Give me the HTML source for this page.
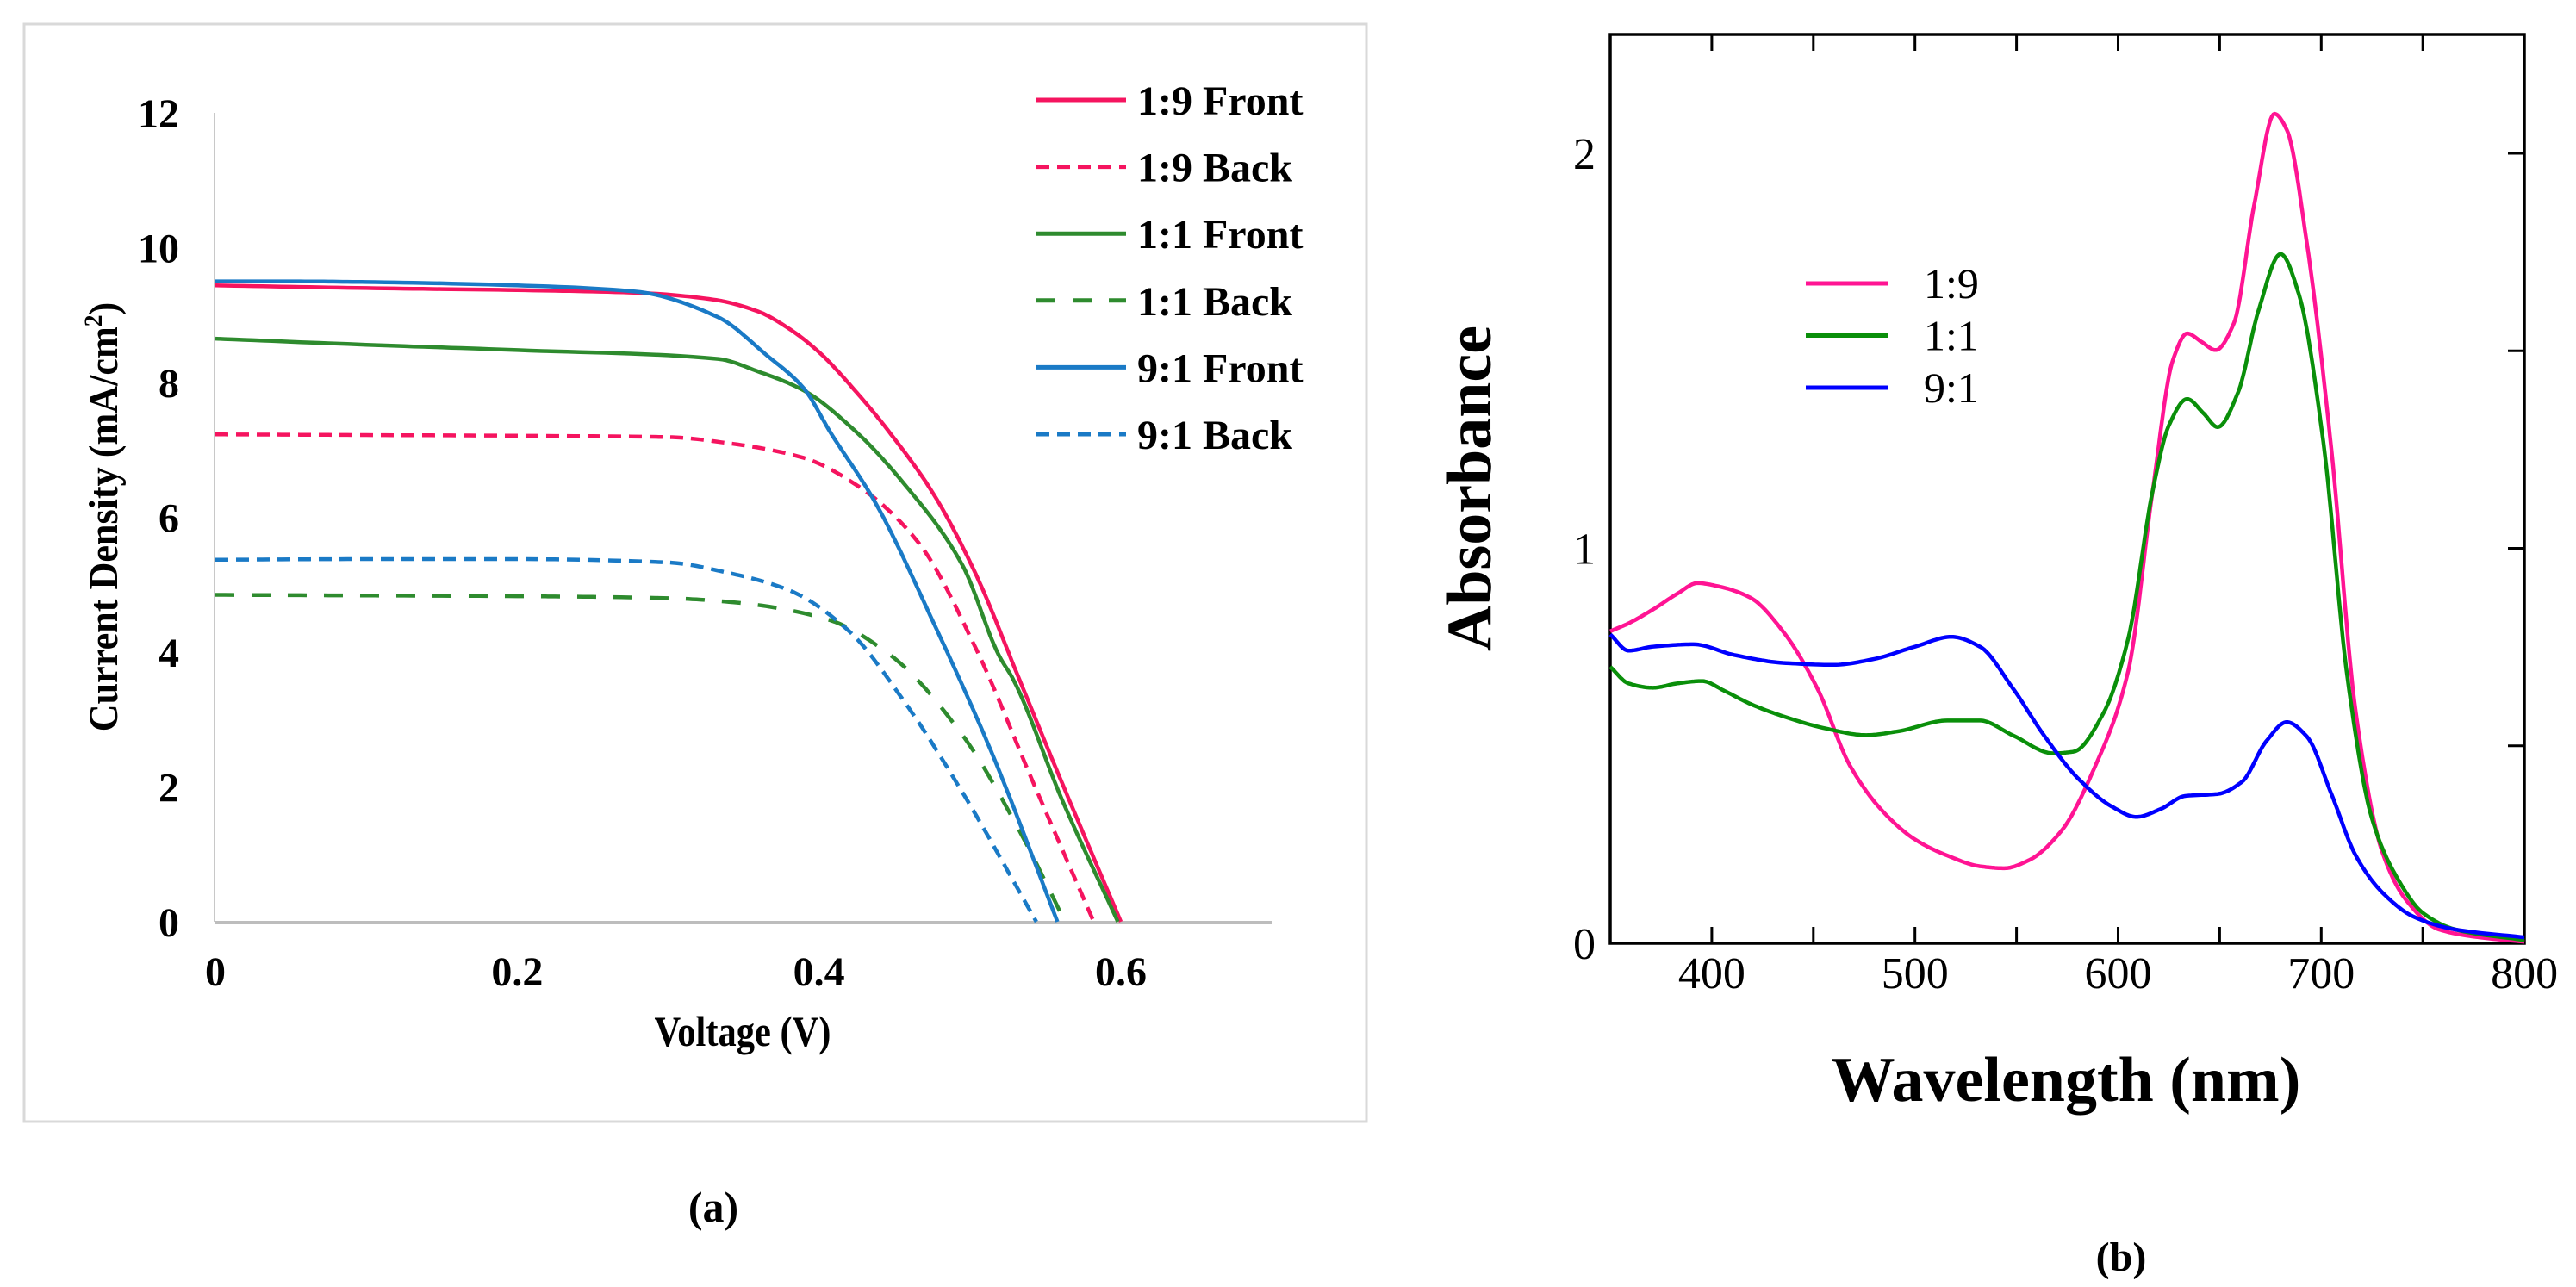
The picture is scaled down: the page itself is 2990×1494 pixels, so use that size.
<!DOCTYPE html>
<html><head><meta charset="utf-8">
<style>
html,body{margin:0;padding:0;background:#fff;}
svg{display:block;font-family:"Liberation Serif",serif;}
text{font-family:"Liberation Serif",serif;}
</style></head>
<body>
<svg id="fig" width="2990" height="1494" viewBox="0 0 2990 1494" xmlns="http://www.w3.org/2000/svg" font-family="Liberation Serif, serif">
  <rect x="28" y="28" width="1558" height="1274" fill="#fff" stroke="#d9d9d9" stroke-width="3"/>
  <g id="chartA"></g>
  <text x="862" y="1214" font-size="50" font-weight="bold" text-anchor="middle" transform="translate(862 0) scale(0.85 1) translate(-862 0)">Voltage (V)</text>
  <text x="0" y="0" font-size="48" font-weight="bold" text-anchor="middle" transform="translate(136 600) rotate(-90) scale(0.92 1)">Current Density (mA/cm<tspan font-size="30" dy="-18">2</tspan><tspan dy="18">)</tspan></text>
  <text x="828" y="1418" font-size="50" font-weight="bold" text-anchor="middle">(a)</text>

  <g id="chartB"></g>
  <text x="0" y="0" font-size="74" font-weight="bold" text-anchor="middle" transform="translate(1730 567) rotate(-90)">Absorbance</text>
  <text x="2398" y="1278" font-size="74" font-weight="bold" text-anchor="middle">Wavelength (nm)</text>
  <text x="2462" y="1475" font-size="48" font-weight="bold" text-anchor="middle">(b)</text>
</svg>
<script>
// ---------- Chart A data ----------
const aYTicks = [0, 2, 4, 6, 8, 10, 12];
const aXTicks = [0, 0.2, 0.4, 0.6];
const aXTickLabels = ["0", "0.2", "0.4", "0.6"];
const aSeriesNames = ["1:9 Front", "1:9 Back", "1:1 Front", "1:1 Back", "9:1 Front", "9:1 Back"];
const v19F = [0, 0.1, 0.2, 0.28, 0.33, 0.36, 0.38, 0.40, 0.425, 0.446, 0.476, 0.504, 0.533, 0.561, 0.60];
const j19F = [9.44, 9.40, 9.37, 9.33, 9.23, 9.05, 8.80, 8.45, 7.85, 7.28, 6.34, 5.15, 3.58, 2.06, 0];
const v19B = [0, 0.1, 0.2, 0.3, 0.343, 0.39, 0.428, 0.466, 0.504, 0.542, 0.582];
const j19B = [7.23, 7.22, 7.21, 7.19, 7.09, 6.88, 6.43, 5.62, 4.05, 2.06, 0];
const v11F = [0, 0.1, 0.2, 0.333, 0.36, 0.39, 0.424, 0.457, 0.495, 0.519, 0.529, 0.561, 0.598];
const j11F = [8.65, 8.56, 8.48, 8.35, 8.16, 7.88, 7.28, 6.48, 5.29, 3.96, 3.58, 1.81, 0];
const v11B = [0, 0.1, 0.2, 0.3, 0.343, 0.405, 0.447, 0.495, 0.533, 0.563];
const j11B = [4.85, 4.84, 4.83, 4.80, 4.74, 4.49, 3.96, 2.77, 1.34, 0];
const v91F = [0, 0.05, 0.1, 0.2, 0.278, 0.333, 0.365, 0.39, 0.407, 0.438, 0.476, 0.514, 0.558];
const j91F = [9.50, 9.50, 9.49, 9.44, 9.35, 8.97, 8.41, 7.91, 7.28, 6.19, 4.43, 2.53, 0];
const v91B = [0, 0.1, 0.2, 0.3, 0.343, 0.381, 0.419, 0.457, 0.495, 0.544];
const j91B = [5.37, 5.38, 5.38, 5.33, 5.16, 4.91, 4.33, 3.25, 1.92, 0];

// ---------- Chart B data ----------
const bXTicks = [400, 500, 600, 700, 800];
const bYTicks = [0, 1, 2];
const bSeriesNames = ["1:9", "1:1", "9:1"];
const w19 = [350,359,371,383,393,403,419,435,452,468,484,500,516,532,544,556,572,588,605,617,627,634,641,648,657,667,677,683,693,705,717,730,742,758,778,800];
const a19 = [0.79,0.81,0.845,0.885,0.912,0.904,0.875,0.79,0.645,0.45,0.335,0.263,0.222,0.195,0.19,0.21,0.284,0.44,0.69,1.145,1.477,1.544,1.523,1.502,1.57,1.87,2.10,2.06,1.77,1.25,0.585,0.232,0.108,0.035,0.015,0.004];
const w11 = [350,359,371,383,395,407,419,435,456,476,492,516,532,548,568,578,593,605,617,625,634,642,649,659,669,680,689,701,713,725,738,750,766,800];
const a11 = [0.70,0.658,0.647,0.658,0.664,0.637,0.606,0.575,0.544,0.527,0.537,0.564,0.564,0.527,0.481,0.485,0.585,0.772,1.145,1.311,1.378,1.342,1.307,1.394,1.60,1.745,1.643,1.27,0.668,0.315,0.16,0.077,0.035,0.008];
const w91 = [350,359,371,391,411,435,460,480,500,518,532,548,564,580,597,609,621,633,649,661,673,683,693,705,717,730,746,766,800];
const a91 = [0.782,0.741,0.751,0.757,0.73,0.71,0.705,0.72,0.751,0.776,0.751,0.647,0.523,0.419,0.346,0.32,0.34,0.373,0.378,0.409,0.512,0.56,0.523,0.378,0.222,0.129,0.066,0.035,0.015];

const NS = "http://www.w3.org/2000/svg";
function mk(parent, tag, attrs) {
  const e = document.createElementNS(NS, tag);
  for (const k in attrs) e.setAttribute(k, attrs[k]);
  parent.appendChild(e);
  return e;
}
// monotone cubic (Fritsch-Carlson) through data points, sampled in data space
function monoPath(xs, ys, sx, sy) {
  const n = xs.length;
  const d = [], m = new Array(n);
  for (let i = 0; i < n - 1; i++) d.push((ys[i + 1] - ys[i]) / (xs[i + 1] - xs[i]));
  m[0] = d[0]; m[n - 1] = d[n - 2];
  for (let i = 1; i < n - 1; i++) {
    if (d[i - 1] * d[i] <= 0) m[i] = 0;
    else {
      const h0 = xs[i] - xs[i - 1], h1 = xs[i + 1] - xs[i];
      const w1 = 2 * h1 + h0, w2 = h1 + 2 * h0;
      m[i] = (w1 + w2) / (w1 / d[i - 1] + w2 / d[i]);
    }
  }
  let path = "M" + sx(xs[0]).toFixed(1) + "," + sy(ys[0]).toFixed(1);
  for (let i = 0; i < n - 1; i++) {
    const h = xs[i + 1] - xs[i];
    const steps = 16;
    for (let k = 1; k <= steps; k++) {
      const t = k / steps, t2 = t * t, t3 = t2 * t;
      const y = (2 * t3 - 3 * t2 + 1) * ys[i] + (t3 - 2 * t2 + t) * h * m[i] + (-2 * t3 + 3 * t2) * ys[i + 1] + (t3 - t2) * h * m[i + 1];
      const x = xs[i] + t * h;
      path += " L" + sx(x).toFixed(1) + "," + sy(y).toFixed(1);
    }
  }
  return path;
}

// ---------- Chart A ----------
const gA = document.getElementById("chartA");
const axV = v => 250 + v * 1751.7;
const axJ = j => 1070 - j * 78.25;
let e;
e = mk(gA, "line", {x1: 249, y1: axJ(12), x2: 249, y2: 1070, stroke: "#c8c8c8", "stroke-width": 2});


e = mk(gA, "line", {x1: 249, y1: 1071, x2: axV(0.7), y2: 1071, stroke: "#bdbdbd", "stroke-width": 4});


aYTicks.forEach(t => {
  const tx = mk(gA, "text", {x: 208, y: axJ(t) + 17, "font-size": 48, "font-weight": "bold", "text-anchor": "end"});
  tx.textContent = String(t);
  
  
});
aXTicks.forEach((t, i) => {
  const tx = mk(gA, "text", {x: axV(t), y: 1144, "font-size": 48, "font-weight": "bold", "text-anchor": "middle"});
  tx.textContent = aXTickLabels[i];
  
  
});
const aColors = ["#f5145f", "#f5145f", "#2e8b2e", "#2e8b2e", "#1a7ac6", "#1a7ac6"];
const aDash = ["", "15 9", "", "22 20", "", "15 9"];
const aV = [v19F, v19B, v11F, v11B, v91F, v91B];
const aJ = [j19F, j19B, j11F, j11B, j91F, j91B];
const aKeys = ["1-9-front", "1-9-back", "1-1-front", "1-1-back", "9-1-front", "9-1-back"];
aV.forEach((vs, s) => {
  const attrs = {d: monoPath(vs, aJ[s], axV, axJ), fill: "none", stroke: aColors[s], "stroke-width": 4.5, "stroke-linejoin": "round"};
  if (aDash[s]) attrs["stroke-dasharray"] = aDash[s];
  const p = mk(gA, "path", attrs);
  
  
  const ly = 116 + s * 77.6;
  const la = {x1: 1203, y1: ly, x2: 1307, y2: ly, stroke: aColors[s], "stroke-width": 5};
  if (aDash[s]) la["stroke-dasharray"] = aDash[s];
  const ll = mk(gA, "line", la);
  
  
  const lt = mk(gA, "text", {x: 1320, y: ly + 17, "font-size": 48, "font-weight": "bold"});
  lt.textContent = aSeriesNames[s];
  
  
});

// ---------- Chart B ----------
const gB = document.getElementById("chartB");
const bxW = w => 1869 + (w - 350) * 2.358;
const byA = a => 1095 - a * 458.5;
e = mk(gB, "rect", {x: 1869, y: 40, width: 1061, height: 1055, fill: "none", stroke: "#000", "stroke-width": 3.5});


for (let w = 400; w < 800; w += 50) {
  const t1 = mk(gB, "line", {x1: bxW(w), y1: 40, x2: bxW(w), y2: 59, stroke: "#000", "stroke-width": 3});
  
  
  const t2 = mk(gB, "line", {x1: bxW(w), y1: 1095, x2: bxW(w), y2: 1076, stroke: "#000", "stroke-width": 3});
  
  
}
for (let a = 0.5; a < 2.3; a += 0.5) {
  const t3 = mk(gB, "line", {x1: 2930, y1: byA(a), x2: 2911, y2: byA(a), stroke: "#000", "stroke-width": 3});
  
  
}
bXTicks.forEach(t => {
  const tx = mk(gB, "text", {x: bxW(t), y: 1147, "font-size": 52, "text-anchor": "middle"});
  tx.textContent = String(t);
  
  
});
bYTicks.forEach(t => {
  const tx = mk(gB, "text", {x: 1852, y: byA(t) + 18, "font-size": 52, "text-anchor": "end"});
  tx.textContent = String(t);
  
  
});
const bColors = ["#ff1493", "#0a8f0a", "#0000ff"];
const bW = [w19, w11, w91];
const bA = [a19, a11, a91];
const bKeys = ["1-9", "1-1", "9-1"];
bW.forEach((ws, s) => {
  const p = mk(gB, "path", {d: monoPath(ws, bA[s], bxW, byA), fill: "none", stroke: bColors[s], "stroke-width": 4.5, "stroke-linejoin": "round"});
  
  
  const ly = 329 + s * 60.5;
  const ll = mk(gB, "line", {x1: 2096, y1: ly, x2: 2191, y2: ly, stroke: bColors[s], "stroke-width": 5});
  
  
  const lt = mk(gB, "text", {x: 2233, y: ly + 17, "font-size": 50});
  lt.textContent = bSeriesNames[s];
  
  
});
</script>
</body></html>
